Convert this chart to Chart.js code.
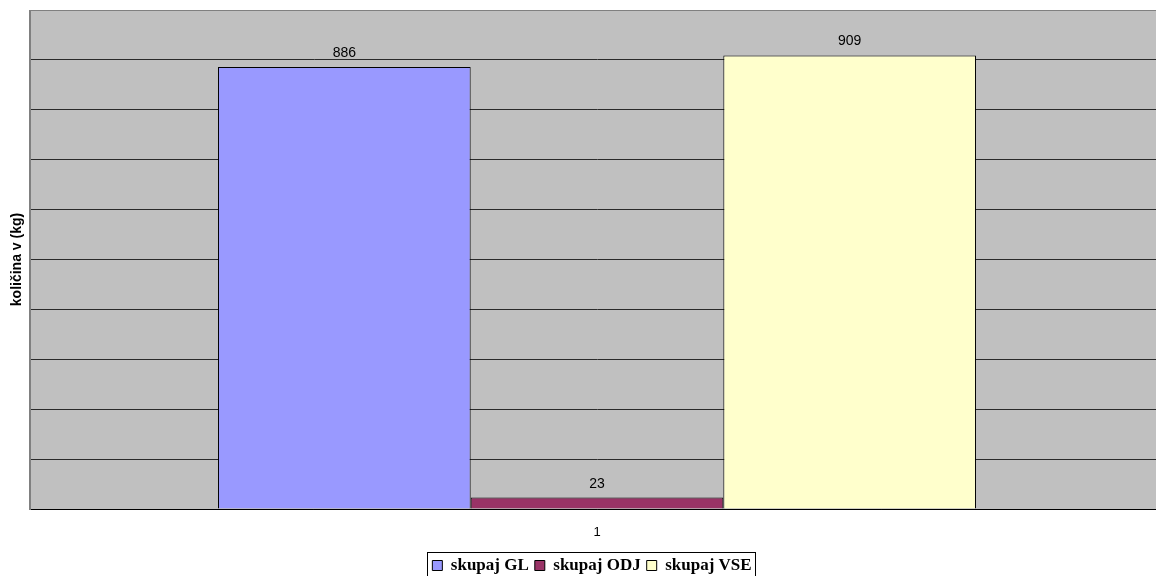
<!DOCTYPE html>
<html>
<head>
<meta charset="utf-8">
<script src="https://cdn.jsdelivr.net/npm/chart.js@4.4.0/dist/chart.umd.min.js"></script>
<style>
  html, body { margin: 0; padding: 0; background: #fff; }
  #wrap { width: 1156px; height: 576px; overflow: hidden; }
</style>
</head>
<body>
<div id="wrap"><canvas id="myChart" width="1164" height="576"></canvas></div>
<script>
// values
const categories = ['1'];
const seriesNames = ['skupaj GL', 'skupaj ODJ', 'skupaj VSE'];
const gl = [886];
const odj = [23];
const vse = [909];
const seriesColors = ['#9999FF', '#993366', '#FFFFCC'];

// grey plot area with outline
const plotBg = {
  id: 'plotBg',
  beforeDraw(chart) {
    const { ctx, chartArea: a } = chart;
    ctx.save();
    ctx.fillStyle = '#C0C0C0';
    ctx.fillRect(a.left, a.top, a.right - a.left, a.bottom - a.top);
    ctx.strokeStyle = '#808080';
    ctx.lineWidth = 1;
    ctx.strokeRect(a.left - 0.5, a.top + 0.5, a.right - a.left + 1, a.bottom - a.top);
    ctx.restore();
  }
};

// numbers above bars
const valueLabels = {
  id: 'valueLabels',
  afterDatasetsDraw(chart) {
    const { ctx } = chart;
    ctx.save();
    ctx.font = '14px "Liberation Sans", Arial, sans-serif';
    ctx.fillStyle = '#000';
    ctx.textAlign = 'center';
    ctx.textBaseline = 'alphabetic';
    chart.data.datasets.forEach((ds, i) => {
      chart.getDatasetMeta(i).data.forEach((bar, j) => {
        ctx.fillText(ds.data[j], bar.x, bar.y - 10);
      });
    });
    ctx.restore();
  }
};

// legend sits a bit right of centre and lower in the original
const legendShift = {
  id: 'legendShift',
  afterLayout(chart) {
    const lg = chart.legend;
    if (!lg) return;
    lg.left += 10;
    lg.right += 10;
    lg.top += 8;
    lg.bottom += 8;
  }
};

// frame around the legend items
const legendFrame = {
  id: 'legendFrame',
  afterDraw(chart) {
    const boxes = chart.legend && chart.legend.legendHitBoxes;
    if (!boxes || !boxes.length) return;
    const left = Math.min(...boxes.map(b => b.left)) - 5;
    const right = Math.max(...boxes.map(b => b.left + b.width)) + 4;
    const top = Math.min(...boxes.map(b => b.top)) - 5;
    const bottom = Math.max(...boxes.map(b => b.top + b.height)) + 6;
    const { ctx } = chart;
    ctx.save();
    ctx.strokeStyle = '#000';
    ctx.lineWidth = 1;
    ctx.strokeRect(Math.round(left) + 0.5, Math.round(top) + 0.5, Math.round(right - left), Math.round(bottom - top));
    ctx.restore();
  }
};

const datasets = [gl, odj, vse].map((d, i) => ({
  label: seriesNames[i],
  data: d,
  backgroundColor: seriesColors[i],
  borderColor: '#000',
  borderWidth: 1,
  categoryPercentage: 0.6684,
  barPercentage: 1
}));

new Chart(document.getElementById('myChart'), {
  type: 'bar',
  data: { labels: categories, datasets },
  options: {
    responsive: false,
    animation: false,
    layout: { padding: { top: 10, right: 0, left: 0, bottom: 0 } },
    plugins: {
      tooltip: { enabled: false },
      legend: {
        position: 'bottom',
        labels: {
          color: '#000',
          font: { family: '"Liberation Serif", "Times New Roman", serif', size: 17, weight: 'bold' },
          boxWidth: 10,
          boxHeight: 10,
          padding: 6
        }
      }
    },
    scales: {
      x: {
        grid: { display: false, drawTicks: false },
        border: { color: '#000', width: 1 },
        ticks: { color: '#000', font: { family: '"Liberation Sans", Arial, sans-serif', size: 13 }, padding: 16 },
        afterFit(scale) { scale.height = 34; }
      },
      y: {
        min: 0,
        max: 1000,
        ticks: { stepSize: 100, display: false },
        grid: {
          color: c => (c.tick.value === 1000 ? '#808080' : '#2a2a2a'),
          drawTicks: false
        },
        border: { color: '#808080', width: 1 },
        title: {
          display: true,
          text: 'količina v (kg)',
          color: '#000',
          font: { family: '"Liberation Sans", Arial, sans-serif', size: 14, weight: 'bold' },
          padding: { top: 9, bottom: 0 }
        },
        afterFit(scale) { scale.width = 30; }
      }
    }
  },
  plugins: [plotBg, valueLabels, legendShift, legendFrame]
});
</script>
</body>
</html>
